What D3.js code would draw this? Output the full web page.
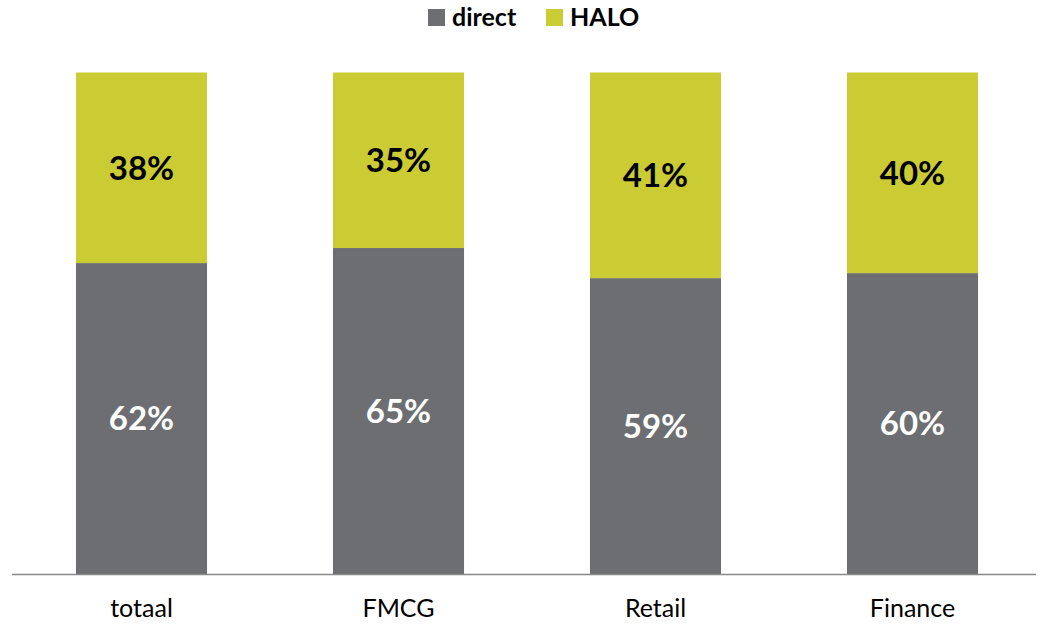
<!DOCTYPE html>
<html>
<head>
<meta charset="utf-8">
<script src="https://cdn.jsdelivr.net/npm/d3@7"></script>
<style>
  body { margin: 0; background: #fff; }
  svg text { font-family: Lato, "Open Sans", sans-serif; }
</style>
</head>
<body>
<div id="chart"></div>
<script>
// data
const categories = ["totaal", "FMCG", "Retail", "Finance"];
const directValues = [62, 65, 59, 60];
const haloValues = [38, 35, 41, 40];
const seriesNames = ["direct", "HALO"];
const seriesColors = ["#6d6e72", "#cbcc34"];

const width = 1038, height = 624;
const svg = d3.select("#chart").append("svg")
  .attr("width", width)
  .attr("height", height);

//Scales
const x = d3.scaleBand()
  .domain(categories)
  .range([13, 1041])
  .paddingInner(0.49)
  .paddingOuter(0.245);
const y = d3.scaleLinear()
  .domain([0, 100])
  .range([574, 72.5]);

//Stack data
const rows = categories.map((c, i) => ({ cat: c, direct: directValues[i], HALO: haloValues[i] }));
const stacked = d3.stack().keys(seriesNames)(rows);

const layers = svg.selectAll("g.layer")
  .data(stacked)
  .join("g")
  .attr("class", "layer")
  .attr("fill", (d, i) => seriesColors[i]);

layers.selectAll("rect")
  .data(d => d)
  .join("rect")
  .attr("x", d => x(d.data.cat))
  .attr("y", d => y(d[1]))
  .attr("width", x.bandwidth())
  .attr("height", d => y(d[0]) - y(d[1]));

//Value labels
layers.each(function(layer, li) {
  d3.select(this).selectAll("text")
    .data(layer)
    .join("text")
    .attr("x", d => x(d.data.cat) + x.bandwidth() / 2)
    .attr("y", d => (y(d[0]) + y(d[1])) / 2)
    .attr("dy", "0.36em")
    .attr("text-anchor", "middle")
    .attr("font-size", 33)
    .attr("font-weight", "bold")
    .attr("fill", li === 0 ? "#fff" : "#000")
    .text(d => (d[1] - d[0]) + "%");
});

//X axis
const xAxis = svg.append("g")
  .attr("transform", `translate(0, 574.5)`)
  .call(d3.axisBottom(x).tickSize(0).tickPadding(25));
xAxis.select(".domain")
  .attr("d", "M12,0H1036")
  .attr("stroke", "#898989")
  .attr("stroke-width", 1.5);
xAxis.selectAll("text")
  .attr("font-size", 25)
  .attr("fill", "#000")
  .style("font-family", "Lato, sans-serif");

//Legend
const legendItems = [{ name: "direct", x: 428 }, { name: "HALO", x: 546 }];
const legend = svg.append("g");
legendItems.forEach((it, i) => {
  legend.append("rect")
    .attr("x", it.x)
    .attr("y", 9)
    .attr("width", 17)
    .attr("height", 17)
    .attr("fill", seriesColors[i]);
  legend.append("text")
    .attr("x", it.x + 24)
    .attr("y", 26)
    .attr("font-size", 25)
    .attr("font-weight", "bold")
    .attr("fill", "#000")
    .text(it.name);
});
</script>
</body>
</html>
